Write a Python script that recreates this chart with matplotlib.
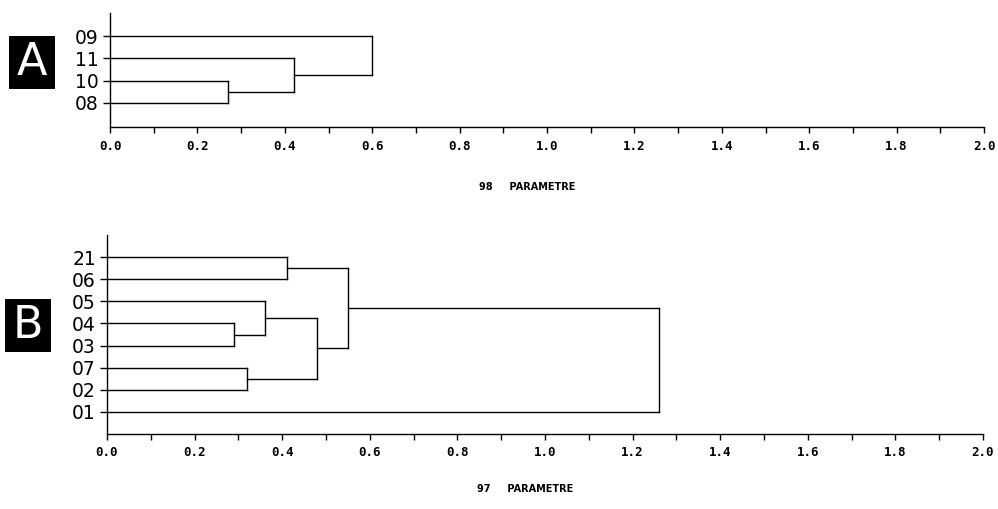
import matplotlib
matplotlib.use("Agg")
import matplotlib.pyplot as plt
from matplotlib.patches import Rectangle
import numpy as np

# ---- data ----
leaves_a = ["09", "11", "10", "08"]
merge_left_a = ["10", "11", "09"]
merge_right_a = ["08", "m1", "m2"]
heights_a = [0.27, 0.42, 0.60]

leaves_b = ["21", "06", "05", "04", "03", "07", "02", "01"]
merge_left_b = ["04", "07", "05", "21", "m3", "m4", "m6"]
merge_right_b = ["03", "02", "m1", "06", "m2", "m5", "01"]
heights_b = [0.29, 0.32, 0.36, 0.41, 0.48, 0.55, 1.26]

xticks_major = [0.0, 0.2, 0.4, 0.6, 0.8, 1.0, 1.2, 1.4, 1.6, 1.8, 2.0]
xlabel_a = "98     PARAMETRE"
xlabel_b = "97     PARAMETRE"

W, H = 998, 509
fig = plt.figure(figsize=(W / 100, H / 100), dpi=100)
fig.patch.set_facecolor("white")


def draw_dendro(ax, leaves, left, right, heights):
    n = len(leaves)
    pos = {name: (0.0, float(n - i)) for i, name in enumerate(leaves)}
    for k, (a, b, h) in enumerate(zip(left, right, heights), start=1):
        xa, ya = pos[a]
        xb, yb = pos[b]
        ax.plot([xa, h], [ya, ya], color="black", lw=1.0)
        ax.plot([xb, h], [yb, yb], color="black", lw=1.0)
        ax.plot([h, h], [ya, yb], color="black", lw=1.0)
        pos["m%d" % k] = (h, (ya + yb) / 2)
    ax.set_yticks(np.arange(n, 0, -1))
    ax.set_yticklabels(leaves, fontsize=13.5, family="DejaVu Sans")


def style(ax, xlabel, label_y):
    ax.set_xlim(0, 2.0)
    for s in ["top", "right"]:
        ax.spines[s].set_visible(False)
    for s in ["left", "bottom"]:
        ax.spines[s].set_linewidth(1.0)
    ax.set_xticks(xticks_major)
    ax.set_xticklabels(["%.1f" % v for v in xticks_major],
                       fontsize=9, family="DejaVu Sans Mono", fontweight="bold")
    ax.set_xticks(np.arange(0.1, 2.0, 0.2), minor=True)
    ax.tick_params(axis="x", which="both", direction="out", length=4, width=1, pad=5)
    ax.tick_params(axis="y", direction="out", length=5, width=1, pad=3)
    ax.set_xlabel(xlabel, fontsize=7, fontweight="bold")
    ax.xaxis.set_label_coords(0.477, label_y)


def fx(px):
    return px / W


def fy(py):
    return 1 - py / H


# Panel A
axa = fig.add_axes([fx(110), fy(127), fx(984) - fx(110), fy(13) - fy(127)])
draw_dendro(axa, leaves_a, merge_left_a, merge_right_a, heights_a)
axa.set_ylim(-0.1, 5.05)
style(axa, xlabel_a, -0.48)

# Panel B
axb = fig.add_axes([fx(107), fy(434), fx(983) - fx(107), fy(235) - fy(434)])
draw_dendro(axb, leaves_b, merge_left_b, merge_right_b, heights_b)
axb.set_ylim(0, 9.0)
style(axb, xlabel_b, -0.25)

# letter boxes
for letter, (x0, y0, x1, y1) in [("A", (9, 36, 55, 89)), ("B", (5, 299, 51, 352))]:
    fig.patches.append(Rectangle((fx(x0), fy(y1)), fx(x1) - fx(x0), fy(y0) - fy(y1),
                                 transform=fig.transFigure, facecolor="black",
                                 edgecolor="none"))
    fig.text(fx((x0 + x1) / 2), fy((y0 + y1) / 2), letter, color="white",
             fontsize=32, ha="center", va="center", family="DejaVu Sans")

fig.savefig("out.png", dpi=100)
